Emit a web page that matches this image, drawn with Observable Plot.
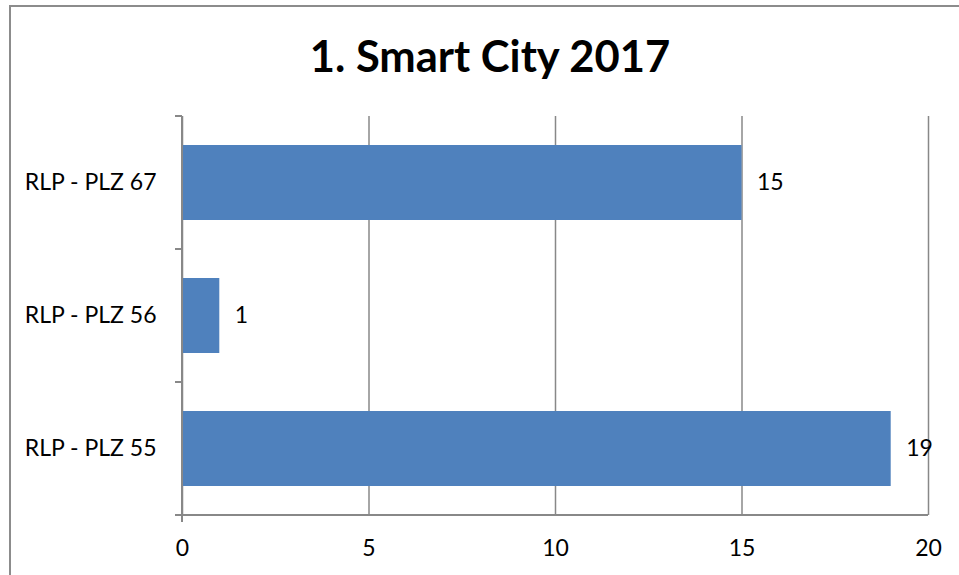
<!DOCTYPE html>
<html>
<head>
<meta charset="utf-8">
<script src="https://cdn.jsdelivr.net/npm/d3@7"></script>
<script src="https://cdn.jsdelivr.net/npm/@observablehq/plot@0.6"></script>
<style>
  html, body { margin: 0; padding: 0; background: #fff; overflow: hidden; }
  #page { position: relative; width: 959px; height: 575px; overflow: hidden; }
  #border { position: absolute; left: 9px; top: 5px; width: 1100px; height: 800px; border: 2px solid #8c8c8c; box-sizing: border-box; }
  #title { position: absolute; left: 0; top: 29px; width: 980px; text-align: center; font-family: Lato, sans-serif; font-weight: bold; font-size: 43.5px; color: #000; line-height: 1.2; white-space: nowrap; }
  #chart { position: absolute; left: 0; top: 100px; }
</style>
</head>
<body>
<div id="page">
  <div id="border"></div>
  <div id="title">1. Smart City 2017</div>
  <div id="chart"></div>
</div>
<script>
const categories = ["RLP - PLZ 67", "RLP - PLZ 56", "RLP - PLZ 55"];
const values = [15, 1, 19];
const xTicks = [0, 5, 10, 15, 20];

const data = categories.map((c, i) => ({cat: c, value: values[i]}));

const W = 959, H = 475;
const mL = 182, mR = 31, mT = 16, mB = 60;
const padInner = 0.436;
const gray = "#888888";
const font = "Lato, sans-serif";

function axesLines(index, scales, values, dims, context) {
  const y = scales.y;
  const centersRaw = categories.map(c => y(c));
  const step = centersRaw[1] - centersRaw[0];
  const bw = typeof y.bandwidth === "function" ? y.bandwidth() : step * (1 - padInner);
  const centers = centersRaw.map(v => v + bw / 2);
  const bounds = [centers[0] - step / 2, ...centers.map(v => v + step / 2)];
  const top = dims.marginTop, bottom = dims.height - dims.marginBottom;
  const left = dims.marginLeft, right = dims.width - dims.marginRight;
  const g = d3.select(context.document.createElementNS("http://www.w3.org/2000/svg", "g"))
    .attr("stroke", gray).attr("stroke-width", 2).attr("fill", "none");
  g.append("line").attr("x1", left).attr("x2", left).attr("y1", top).attr("y2", bottom + 7);
  g.append("line").attr("x1", left - 7).attr("x2", right).attr("y1", bottom).attr("y2", bottom);
  for (const b of bounds) {
    g.append("line").attr("x1", left - 7).attr("x2", left).attr("y1", b).attr("y2", b);
  }
  return g.node();
}

const plot = Plot.plot({
  width: W,
  height: H,
  marginLeft: mL,
  marginRight: mR,
  marginTop: mT,
  marginBottom: mB,
  style: {fontFamily: font, background: "transparent", overflow: "visible"},
  x: {domain: [0, 20], ticks: xTicks},
  y: {domain: categories, paddingInner: padInner, paddingOuter: padInner / 2, align: 0.5},
  marks: [
    Plot.gridX(xTicks, {stroke: gray, strokeOpacity: 1, strokeWidth: 1.5}),
    Plot.barX(data, {x: "value", y: "cat", fill: "#4F81BD"}),
    Plot.text(data, {x: "value", y: "cat", text: d => String(d.value), dx: 15, textAnchor: "start", fontSize: 23, fill: "#000"}),
    Plot.axisX({ticks: xTicks, tickSize: 0, tickPadding: 24, fontSize: 23, label: null, fill: "#000"}),
    Plot.axisY({tickSize: 0, tickPadding: 26, fontSize: 23, label: null, fill: "#000"}),
    axesLines
  ]
});
document.getElementById("chart").appendChild(plot);
</script>
</body>
</html>
